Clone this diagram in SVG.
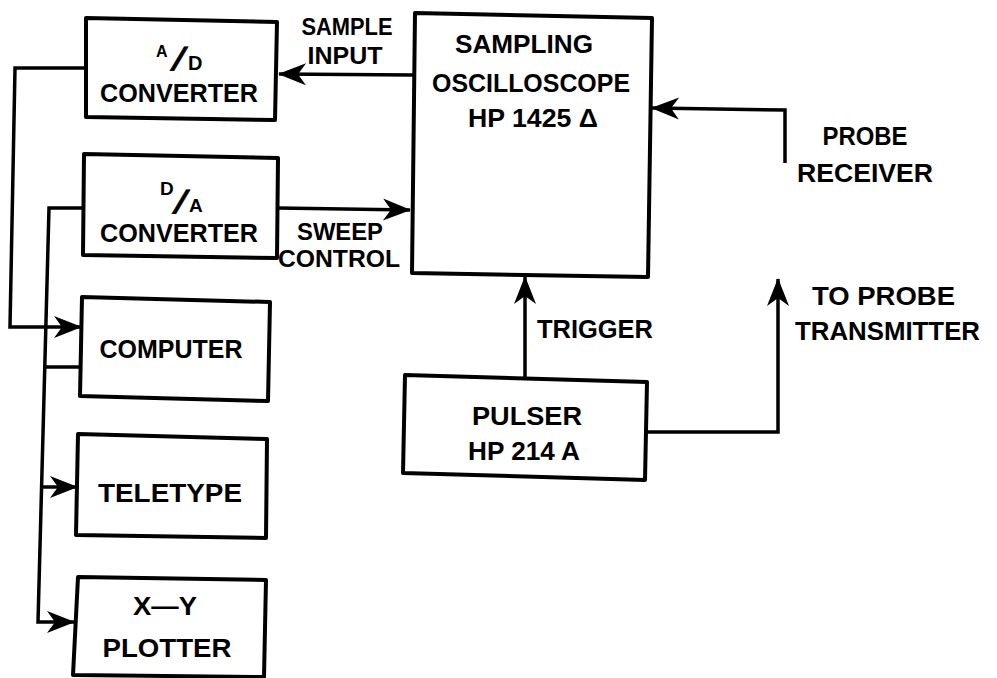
<svg xmlns="http://www.w3.org/2000/svg" width="997" height="678" viewBox="0 0 997 678">
<style>
.box{fill:none;stroke:#000;stroke-width:4;stroke-linejoin:round}
.ln{fill:none;stroke:#000;stroke-width:3.5;stroke-linejoin:miter}
text{font-family:"Liberation Sans",Arial,sans-serif;font-weight:bold;fill:#000}
.t{font-size:26px}
.s{font-size:24px}
.c{text-anchor:middle}
.sl{stroke:#000;stroke-width:0.8}
</style>
<defs>
<marker id="ah" markerUnits="userSpaceOnUse" markerWidth="32" markerHeight="26" viewBox="-30 -13 32 26" refX="0" refY="0" orient="auto">
<path d="M1,0 L-27,-11 L-19,0 L-27,11 Z" fill="#000"/>
</marker>
</defs>
<rect width="997" height="678" fill="#fff"/>

<g id="connectors">
<path class="ln" d="M413,75 L279,74" marker-end="url(#ah)"/>
<path class="ln" d="M278,208 L410,210" marker-end="url(#ah)"/>
<path class="ln" d="M785,163 L785,110 L652,108" marker-end="url(#ah)"/>
<path class="ln" d="M525,377 L525,277" marker-end="url(#ah)"/>
<path class="ln" d="M646,432 L778,432 L778,279" marker-end="url(#ah)"/>
<path class="ln" d="M86,68 L15,68 L10,327 L81,327" marker-end="url(#ah)"/>
<path class="ln" d="M84,208 L49,208 L38,622 L74,622" marker-end="url(#ah)"/>
<path class="ln" d="M42,487 L77,487" marker-end="url(#ah)"/>
<path class="ln" d="M81,367 L45,367"/>
</g>

<g id="ad-converter">
<path class="box" d="M86,18 L277,22 L275,120 L86,117 Z"/>
<text font-size="16" x="156" y="57">A</text>
<text class="sl" font-size="32" transform="translate(170,70) skewX(-22)">/</text>
<text font-size="20" x="188" y="70">D</text>
<text class="t c" x="179" y="102" textLength="158" lengthAdjust="spacingAndGlyphs">CONVERTER</text>
</g>

<g id="da-converter">
<path class="box" d="M84,154 L278,158 L277,258 L83,255 Z"/>
<text font-size="19" x="160" y="195">D</text>
<text class="sl" font-size="32" transform="translate(172,213) skewX(-22)">/</text>
<text font-size="19" x="189" y="212">A</text>
<text class="t c" x="179" y="242" textLength="158" lengthAdjust="spacingAndGlyphs">CONVERTER</text>
</g>

<g id="computer">
<path class="box" d="M82,297 L270,302 L268,401 L80,396 Z"/>
<text class="t c" x="171" y="358" textLength="143" lengthAdjust="spacingAndGlyphs">COMPUTER</text>
</g>

<g id="teletype">
<path class="box" d="M78,434 L267,439 L266,538 L76,535 Z"/>
<text class="t c" x="170" y="502" textLength="144" lengthAdjust="spacingAndGlyphs">TELETYPE</text>
</g>

<g id="xy-plotter">
<path class="box" d="M78,577 L266,580 L264,677 L73,675 Z"/>
<text class="t c" x="165" y="615" textLength="64" lengthAdjust="spacingAndGlyphs">X—Y</text>
<text class="t c" x="167" y="657" textLength="129" lengthAdjust="spacingAndGlyphs">PLOTTER</text>
</g>

<g id="oscilloscope">
<path class="box" d="M415,13 L652,18 L648,277 L412,273 Z"/>
<text class="t c" x="524" y="53" textLength="138" lengthAdjust="spacingAndGlyphs">SAMPLING</text>
<text class="t c" x="531" y="92" textLength="198" lengthAdjust="spacingAndGlyphs">OSCILLOSCOPE</text>
<text class="t" x="468" y="127" textLength="130" lengthAdjust="spacingAndGlyphs">HP 1425 Δ</text>
</g>

<g id="pulser">
<path class="box" d="M405,375 L647,382 L645,480 L403,473 Z"/>
<text class="t c" x="527" y="425" textLength="110" lengthAdjust="spacingAndGlyphs">PULSER</text>
<text class="t c" x="524" y="460" textLength="112" lengthAdjust="spacingAndGlyphs">HP 214 A</text>
</g>

<g id="labels">
<text class="s c" x="347" y="35" textLength="91" lengthAdjust="spacingAndGlyphs">SAMPLE</text>
<text class="s c" x="345" y="64" textLength="75" lengthAdjust="spacingAndGlyphs">INPUT</text>
<text class="s c" x="340" y="240" textLength="86" lengthAdjust="spacingAndGlyphs">SWEEP</text>
<text class="s c" x="339" y="267" textLength="122" lengthAdjust="spacingAndGlyphs">CONTROL</text>
<text class="t c" x="865" y="145" textLength="85" lengthAdjust="spacingAndGlyphs">PROBE</text>
<text class="t c" x="865" y="182" textLength="136" lengthAdjust="spacingAndGlyphs">RECEIVER</text>
<text class="t" x="537" y="338" textLength="116" lengthAdjust="spacingAndGlyphs">TRIGGER</text>
<text class="t" x="812" y="305" textLength="143" lengthAdjust="spacingAndGlyphs">TO  PROBE</text>
<text class="t" x="795" y="340" textLength="185" lengthAdjust="spacingAndGlyphs">TRANSMITTER</text>
</g>
</svg>
